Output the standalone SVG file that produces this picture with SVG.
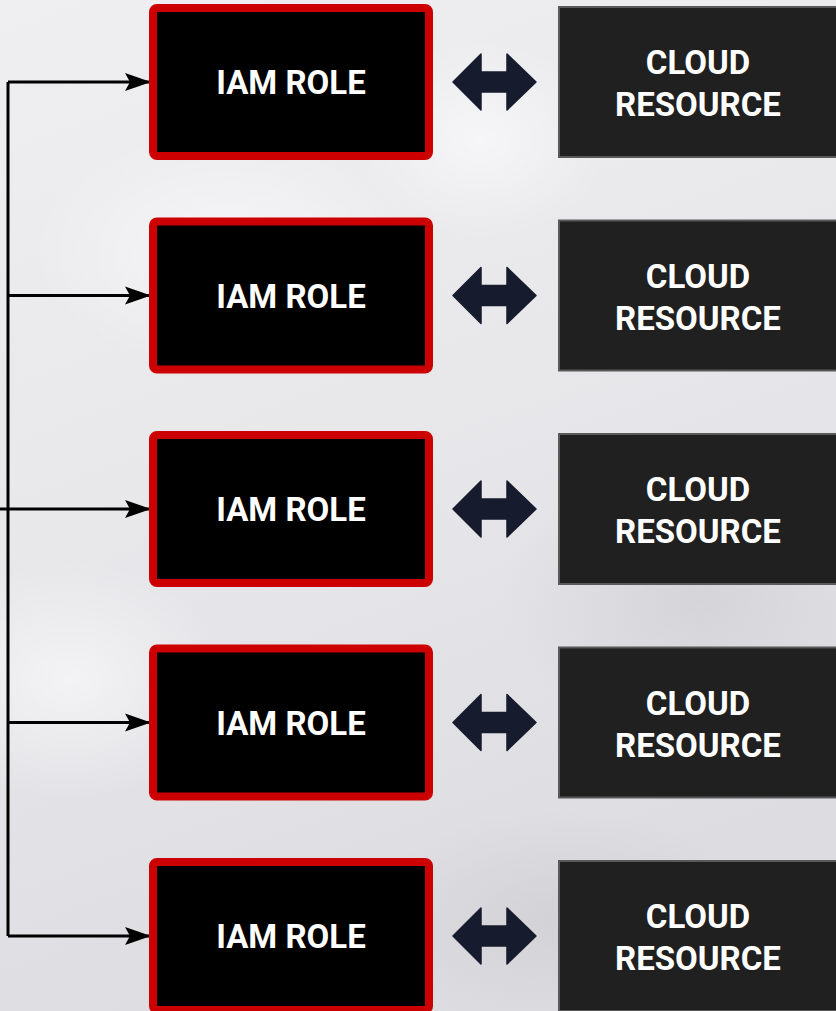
<svg xmlns="http://www.w3.org/2000/svg" width="836" height="1011" viewBox="0 0 836 1011">
<defs>
<linearGradient id="bg" x1="0" y1="0" x2="0.3" y2="1">
<stop offset="0" stop-color="#efeef1"/>
<stop offset="0.5" stop-color="#e8e7ea"/>
<stop offset="1" stop-color="#dddce0"/>
</linearGradient>
<radialGradient id="blob">
<stop offset="0" stop-color="#ffffff" stop-opacity="0.55"/>
<stop offset="1" stop-color="#ffffff" stop-opacity="0"/>
</radialGradient>
<radialGradient id="shade">
<stop offset="0" stop-color="#c8c7cc" stop-opacity="0.5"/>
<stop offset="1" stop-color="#c8c7cc" stop-opacity="0"/>
</radialGradient>
<marker id="ah" viewBox="0 0 26 20" refX="25" refY="10" markerWidth="26" markerHeight="20" markerUnits="userSpaceOnUse" orient="auto">
<path d="M0,1 L26,10 L0,19 L5,10 Z" fill="#000"/>
</marker>
<path id="dbl" d="M453,0 L481,-28 L481,-10 L507,-10 L507,-28 L536,0 L507,28 L507,10 L481,10 L481,28 Z"/>
</defs>
<style>
.iam{fill:#000;stroke:#cc0000;stroke-width:8}
.res{fill:#202020;stroke:#595959;stroke-width:2}
.t{fill:#fff;font-family:Roboto,"Liberation Sans",sans-serif;font-weight:bold;font-size:33px;text-anchor:middle}
.dbl{fill:#161b2e;stroke:#161b2e;stroke-width:1.5;stroke-linejoin:round}
.con{fill:none;stroke:#000;stroke-width:3}
</style>
<rect width="836" height="1011" fill="url(#bg)"/>
<ellipse cx="230" cy="250" rx="200" ry="120" fill="url(#blob)"/>
<ellipse cx="480" cy="140" rx="130" ry="100" fill="url(#blob)"/>
<ellipse cx="70" cy="680" rx="160" ry="120" fill="url(#blob)"/>
<ellipse cx="700" cy="600" rx="200" ry="140" fill="url(#shade)"/>
<ellipse cx="560" cy="920" rx="200" ry="110" fill="url(#shade)"/>

<g id="connectors">
<path class="con" d="M8,82 V936"/>
<path class="con" d="M0,509 H8"/>
<path class="con" d="M8,82 H150" marker-end="url(#ah)"/>
<path class="con" d="M8,295.5 H150" marker-end="url(#ah)"/>
<path class="con" d="M8,509 H150" marker-end="url(#ah)"/>
<path class="con" d="M8,722.5 H150" marker-end="url(#ah)"/>
<path class="con" d="M8,936 H150" marker-end="url(#ah)"/>
<use href="#dbl" class="dbl" y="82"/>
<use href="#dbl" class="dbl" y="295.5"/>
<use href="#dbl" class="dbl" y="509"/>
<use href="#dbl" class="dbl" y="722.5"/>
<use href="#dbl" class="dbl" y="936"/>
</g>

<g id="iam1"><rect class="iam" x="153" y="8" width="276" height="148" rx="4"/><text class="t" x="291" y="94">IAM ROLE</text></g>
<g id="iam2"><rect class="iam" x="153" y="221.5" width="276" height="148" rx="4"/><text class="t" x="291" y="307.5">IAM ROLE</text></g>
<g id="iam3"><rect class="iam" x="153" y="435" width="276" height="148" rx="4"/><text class="t" x="291" y="521">IAM ROLE</text></g>
<g id="iam4"><rect class="iam" x="153" y="648.5" width="276" height="148" rx="4"/><text class="t" x="291" y="734.5">IAM ROLE</text></g>
<g id="iam5"><rect class="iam" x="153" y="862" width="276" height="148" rx="4"/><text class="t" x="291" y="948">IAM ROLE</text></g>

<g id="res1"><rect class="res" x="559" y="7" width="290" height="150"/><text class="t" x="698" y="74">CLOUD</text><text class="t" x="698" y="116">RESOURCE</text></g>
<g id="res2"><rect class="res" x="559" y="220.5" width="290" height="150"/><text class="t" x="698" y="287.5">CLOUD</text><text class="t" x="698" y="329.5">RESOURCE</text></g>
<g id="res3"><rect class="res" x="559" y="434" width="290" height="150"/><text class="t" x="698" y="501">CLOUD</text><text class="t" x="698" y="543">RESOURCE</text></g>
<g id="res4"><rect class="res" x="559" y="647.5" width="290" height="150"/><text class="t" x="698" y="714.5">CLOUD</text><text class="t" x="698" y="756.5">RESOURCE</text></g>
<g id="res5"><rect class="res" x="559" y="861" width="290" height="150"/><text class="t" x="698" y="928">CLOUD</text><text class="t" x="698" y="970">RESOURCE</text></g>
</svg>
